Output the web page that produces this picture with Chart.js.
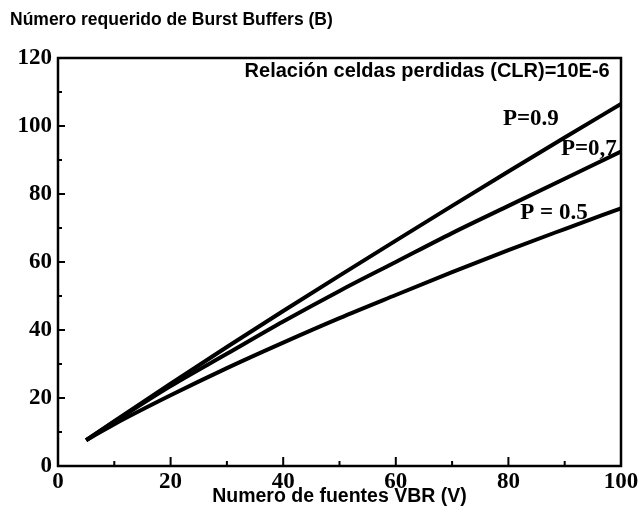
<!DOCTYPE html>
<html>
<head>
<meta charset="utf-8">
<script src="https://cdn.jsdelivr.net/npm/chart.js@4.4.1/dist/chart.umd.min.js"></script>
<style>
  html, body { margin: 0; padding: 0; background: #ffffff; }
  #wrap { width: 639px; height: 514px; position: relative; }
</style>
</head>
<body>
<div id="wrap"><canvas id="c" width="639" height="514"></canvas></div>
<script>
// Número de fuentes VBR (eje X)
const fuentes = [5, 10, 20, 30, 40, 50, 60, 70, 80, 90, 100];
// Burst Buffers requeridos para cada carga P
const bufP09 = [7.6, 13.2, 24.2, 35, 45.6, 56, 66.3, 76.5, 86.6, 96.6, 106.5];
const bufP07 = [7.6, 13, 23.5, 33, 42.5, 51.5, 60, 68.5, 76.5, 84.5, 92.5];
const bufP05 = [7.6, 12.3, 20.8, 28.8, 36.3, 43.5, 50.3, 57, 63.5, 69.7, 75.8];
const cargas = ['P=0.9', 'P=0,7', 'P = 0.5'];

const titulo = 'Número requerido de Burst Buffers (B)';
const tituloX = 'Numero de fuentes VBR (V)';
const nota = 'Relación celdas perdidas (CLR)=10E-6';

const serie = (ys) => fuentes.map((x, i) => ({ x: x, y: ys[i] }));

// Etiquetas de cada curva, ancladas en coordenadas de datos
const etiquetas = [
  { text: cargas[0], x: 84, y: 102 },
  { text: cargas[1], x: 94.3, y: 93.2 },
  { text: cargas[2], x: 88.1, y: 74.5 }
];

const marco = {
  id: 'marco',
  afterDatasetsDraw(chart) {
    const { ctx, chartArea: a, scales } = chart;
    const xs = scales.x, ys = scales.y;
    ctx.save();
    ctx.strokeStyle = '#000';
    ctx.lineWidth = 2.5;
    ctx.strokeRect(a.left, a.top, a.right - a.left, a.bottom - a.top);
    // marcas interiores de los ejes
    ctx.lineWidth = 2;
    for (let v = 10; v < 100; v += 10) {
      const px = xs.getPixelForValue(v);
      const len = v % 20 === 0 ? 9 : 5;
      ctx.beginPath(); ctx.moveTo(px, a.bottom); ctx.lineTo(px, a.bottom - len); ctx.stroke();
    }
    for (let v = 10; v < 120; v += 10) {
      const py = ys.getPixelForValue(v);
      const len = v % 20 === 0 ? 7 : 4;
      ctx.beginPath(); ctx.moveTo(a.left, py); ctx.lineTo(a.left + len, py); ctx.stroke();
    }
    // textos de las curvas
    ctx.fillStyle = '#000';
    ctx.textBaseline = 'middle';
    ctx.textAlign = 'center';
    ctx.font = 'bold 23px "Liberation Serif"';
    etiquetas.forEach(e => {
      ctx.fillText(e.text, xs.getPixelForValue(e.x), ys.getPixelForValue(e.y));
    });
    ctx.textAlign = 'right';
    ctx.font = 'bold 20px "Liberation Sans"';
    ctx.fillText(nota, xs.getPixelForValue(98), ys.getPixelForValue(116));
    ctx.restore();
  }
};

const estiloLinea = { borderColor: '#000', borderWidth: 4, pointRadius: 0, fill: false,
                      cubicInterpolationMode: 'monotone' };

new Chart(document.getElementById('c'), {
  type: 'line',
  data: {
    datasets: [
      Object.assign({ label: cargas[0], data: serie(bufP09) }, estiloLinea),
      Object.assign({ label: cargas[1], data: serie(bufP07) }, estiloLinea),
      Object.assign({ label: cargas[2], data: serie(bufP05) }, estiloLinea)
    ]
  },
  options: {
    responsive: false,
    animation: false,
    layout: { padding: { top: 4, right: 18, left: 10, bottom: 0 } },
    plugins: {
      legend: { display: false },
      tooltip: { enabled: false },
      title: {
        display: true,
        text: titulo,
        align: 'start',
        color: '#000',
        font: { family: 'Liberation Sans', size: 17.5, weight: 'bold' },
        padding: { top: 6, bottom: 27 }
      }
    },
    scales: {
      x: {
        type: 'linear',
        min: 0, max: 100,
        ticks: { stepSize: 20, color: '#000', padding: -6, maxRotation: 0,
                 font: { family: 'Liberation Serif', size: 23, weight: 'bold' } },
        grid: { display: false },
        border: { display: false },
        title: { display: true, text: tituloX, color: '#000', padding: { top: 0, bottom: 6 },
                 font: { family: 'Liberation Sans', size: 19.5, weight: 'bold' } },
        afterFit(s) { s.height = 48; }
      },
      y: {
        min: 0, max: 120,
        ticks: { stepSize: 20, color: '#000', padding: -2,
                 font: { family: 'Liberation Serif', size: 23, weight: 'bold' } },
        grid: { display: false },
        border: { display: false },
        afterFit(s) { s.width = 48; }
      }
    }
  },
  plugins: [marco]
});
</script>
</body>
</html>
